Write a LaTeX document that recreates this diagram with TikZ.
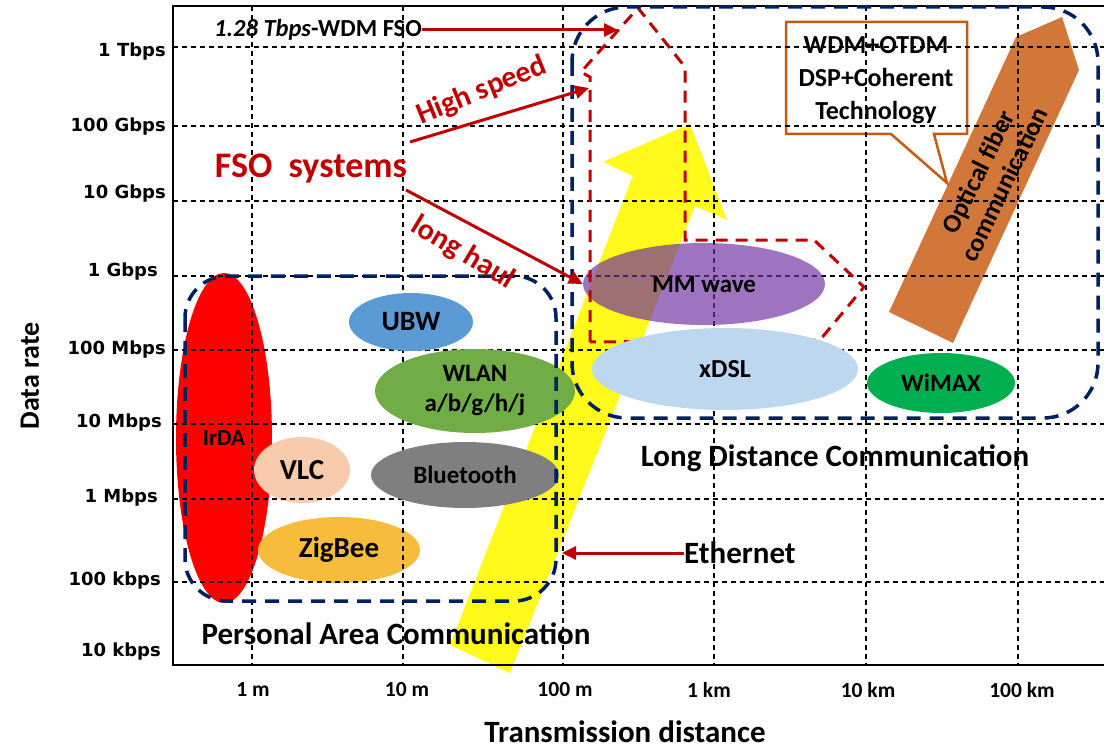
\documentclass[tikz,border=0pt]{standalone}
\usepackage{fontspec}
\setmainfont{Carlito}
\newfontfamily\tickfont{DejaVu Sans}
\usetikzlibrary{shapes.geometric,arrows.meta}

\definecolor{fsored}{HTML}{C00000}
\definecolor{zonenavy}{HTML}{002060}
\definecolor{irdared}{HTML}{FF0000}
\definecolor{ubwblue}{HTML}{5B9BD5}
\definecolor{wlangreen}{HTML}{70AD47}
\definecolor{vlcpeach}{HTML}{F8CBAD}
\definecolor{btgrey}{HTML}{7F7F7F}
\definecolor{zigorange}{HTML}{F7BC3C}
\definecolor{mmpurple}{HTML}{7030A0}
\definecolor{dslblue}{HTML}{BDD7EE}
\definecolor{wimaxgreen}{HTML}{00B050}
\definecolor{trendyellow}{HTML}{FFFA1A}
\definecolor{fiberorange}{HTML}{D2773A}
\definecolor{calloutorange}{HTML}{C55A11}

\tikzset{
  grid line/.style={black, line width=1.4pt, dash pattern=on 5pt off 4pt},
  zone/.style={zonenavy, line width=3.5pt, dash pattern=on 14pt off 9pt, rounded corners=#1},
  fso zone/.style={fsored, line width=3pt, dash pattern=on 12pt off 8pt},
  tech/.style={ellipse, inner sep=0pt, align=center, font=\bfseries\fontsize{25}{30}\selectfont},
  pointer/.style={fsored, line width=3pt, -{Triangle[length=14pt,width=13pt]}},
  tick label/.style={font=\tickfont\bfseries\fontsize{18}{21}\selectfont, anchor=east, inner sep=0pt},
  dist label/.style={font=\bfseries\fontsize{21.5}{25}\selectfont, inner sep=0pt},
  big label/.style={font=\bfseries\fontsize{31}{36}\selectfont, inner sep=0pt},
  red label/.style={fsored, font=\bfseries\fontsize{30}{34}\selectfont, inner sep=0pt},
}

\begin{document}
\begin{tikzpicture}[x=1pt,y=-1pt]
\useasboundingbox (0,0) rectangle (1104,749);

% textured technologies lying under the grid
\node[tech, fill=irdared, minimum width=96pt, minimum height=330pt,
      font=\bfseries\fontsize{23}{28}\selectfont] (irda) at (224,438) {IrDA};
\node[tech, fill=vlcpeach, minimum width=96pt, minimum height=66pt,
      font=\bfseries\fontsize{29}{34}\selectfont] (vlc) at (302,470) {VLC};
\node[tech, fill=zigorange, minimum width=162pt, minimum height=66pt,
      font=\bfseries\fontsize{29}{34}\selectfont] (zigbee) at (339,550) {ZigBee};

% growth arrow across the chart
\fill[trendyellow] (450,645) -- (633,176) -- (603,162) -- (690,124)
      -- (727,220) -- (695,206) -- (510,673) -- cycle;

% optical fiber band
\fill[fiberorange] (889,312) -- (1016,37) -- (1062,17) -- (1079,70) -- (953,343) -- cycle;
\node[font=\bfseries\fontsize{26}{29}\selectfont, align=center, rotate=64, inner sep=0pt]
      (fiber) at (991,178) {Optical fiber\\communication};

% callout for the fiber technologies
\draw[calloutorange, line width=2.5pt, line join=miter]
      (786,22) -- (967,22) -- (967,134) -- (934,134) -- (947,183) -- (891,134) -- (786,134) -- cycle;
\node[font=\bfseries\fontsize{26}{33}\selectfont, align=center, inner sep=0pt]
      (callout) at (876,80) {WDM+OTDM\\DSP+Coherent\\Technology};

% grid
\foreach \gx in {252,403,563,714,866,1018}
  \draw[grid line] (\gx,6) -- (\gx,665);
\foreach \gy in {47,126,201,276,350,424,499,582}
  \draw[grid line] (173,\gy) -- (1104,\gy);

% axes frame
\draw[black, line width=2.5pt] (1104,6) -- (173,6) -- (173,665) -- (1104,665);

% opaque technologies
\node[tech, fill=ubwblue, minimum width=124pt, minimum height=58pt,
      font=\bfseries\fontsize{28}{33}\selectfont] (ubw) at (411,322) {UBW};
\node[tech, fill=wlangreen, minimum width=200pt, minimum height=84pt] (wlan) at (475,391) {WLAN\\a/b/g/h/j};
\node[tech, fill=btgrey, minimum width=188pt, minimum height=66pt] (bt) at (465,475) {Bluetooth};

% millimetre wave, translucent
\node[tech, fill=mmpurple, fill opacity=0.68, text opacity=1,
      minimum width=242pt, minimum height=82pt] (mm) at (704,284) {MM wave};

% FSO region outline
\coordinate (fsoBL) at (590,342);
\coordinate (fsoL) at (590,77);
\coordinate (fsoBarb) at (581,72);
\coordinate (fsoTip) at (638,8);
\coordinate (fsoR) at (685,67);
\coordinate (fsoStep) at (685,240);
\coordinate (fsoStepR) at (814,240);
\coordinate (fsoNose) at (864,287);
\coordinate (fsoBR) at (820,340);
\draw[fso zone] (fsoBL) -- (fsoL) -- (fsoBarb) -- (fsoTip) -- (fsoR) -- (fsoStep)
      -- (fsoStepR) -- (fsoNose) -- (fsoBR) -- cycle;

\node[tech, fill=dslblue, minimum width=266pt, minimum height=82pt,
      font=\bfseries\fontsize{26}{30}\selectfont] (dsl) at (725,369) {xDSL};
\node[tech, fill=wimaxgreen, minimum width=148pt, minimum height=60pt] (wimax) at (941,383) {WiMAX};

% communication zones
\draw[zone=42pt] (185,276) rectangle (556,601);
\draw[zone=55pt] (572,7) rectangle (1098,418);

\node[big label] (pac) at (396,634) {Personal Area Communication};
\node[big label] (ldc) at (835,458) {Long Distance Communication};

% Ethernet marker
\coordinate (ethHit) at (562,553);
\node[big label, anchor=west] (eth) at (684,553) {Ethernet};
\draw[pointer] (eth.west) -- (ethHit);

% FSO annotations
\node[fsored, font=\bfseries\fontsize{36}{42}\selectfont, inner sep=0pt] (fso) at (311,169) {FSO\ \ systems};
\node[red label, rotate=22] (hs) at (482,91) {High speed};
\node[red label, rotate=-31] (lh) at (463,253) {long haul};
\coordinate (hsStart) at (410,142);
\coordinate (hsEnd) at (589,88);
\coordinate (lhStart) at (406,190);
\draw[pointer] (hsStart) -- (hsEnd);
\draw[pointer] (lhStart) -- (mm.west);

\node[font=\bfseries\fontsize{24.5}{28}\selectfont, anchor=west, inner sep=0pt] (wdm) at (214,30)
      {{\itshape 1.28 Tbps}-WDM FSO};
\coordinate (wdmHit) at (618,30);
\draw[pointer] (wdm.east) -- (wdmHit);

% axis tick labels
\node[tick label] (r1T)   at (166,52)  {1 Tbps};
\node[tick label] (r100G) at (166,127) {100 Gbps};
\node[tick label] (r10G)  at (166,194) {10 Gbps};
\node[tick label] (r1G)   at (158,272) {1 Gbps};
\node[tick label] (r100M) at (166,350) {100 Mbps};
\node[tick label] (r10M)  at (162,423) {10 Mbps};
\node[tick label] (r1M)   at (158,498) {1 Mbps};
\node[tick label] (r100k) at (161,581) {100 kbps};
\node[tick label] (r10k)  at (161,652) {10 kbps};

\node[dist label] (d1m)   at (253,690) {1 m};
\node[dist label] (d10m)  at (407,690) {10 m};
\node[dist label] (d100m) at (565,690) {100 m};
\node[dist label] (d1km)  at (709,690) {1 km};
\node[dist label] (d10km) at (868,690) {10 km};
\node[dist label] (d100km) at (1022,690) {100 km};

\node[font=\bfseries\fontsize{31}{36}\selectfont, inner sep=0pt] (xaxis) at (625,732) {Transmission distance};
\node[font=\bfseries\fontsize{28}{32}\selectfont, inner sep=0pt, rotate=90] (yaxis) at (30,376) {Data rate};
\end{tikzpicture}
\end{document}
